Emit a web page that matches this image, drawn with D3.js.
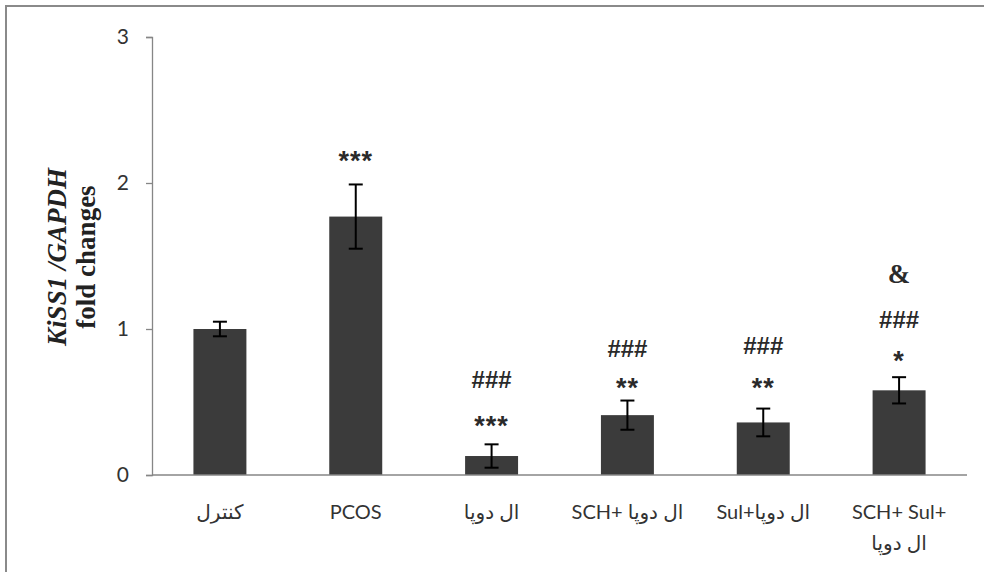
<!DOCTYPE html>
<html><head><meta charset="utf-8">
<script src="https://cdn.jsdelivr.net/npm/d3@7"></script>
<style>
html,body{margin:0;padding:0;background:#fff;}
svg{display:block;}
</style></head>
<body>
<svg id="chart" width="984" height="572"></svg>
<script>
// ---- data ----
const categories = ["کنترل", "PCOS", "ال دوپا", "SCH+ ال دوپا", "Sul+ال دوپا", "SCH+ Sul+|ال دوپا"];
const values = [1.00, 1.77, 0.13, 0.41, 0.36, 0.58];
const errors = [0.05, 0.22, 0.08, 0.10, 0.095, 0.09];
const yTicks = [0, 1, 2, 3];
// significance marks: category index, text, level (in y units)
const marks = [
  {i: 1, t: "***", y: 2.19},
  {i: 2, t: "###", y: 0.66},
  {i: 2, t: "***", y: 0.38},
  {i: 3, t: "###", y: 0.87},
  {i: 3, t: "**",  y: 0.64},
  {i: 4, t: "###", y: 0.89},
  {i: 4, t: "**",  y: 0.64},
  {i: 5, t: "&",   y: 1.38},
  {i: 5, t: "###", y: 1.07},
  {i: 5, t: "*",   y: 0.82}
];

const svg = d3.select("#chart");
const axisX0 = 152, axisX1 = 967, y0 = 475, y3 = 37;

// frame
svg.append("line").attr("x1", 5).attr("x2", 984).attr("y1", 6).attr("y2", 6)
  .attr("stroke", "#8a8a8a").attr("stroke-width", 2);
svg.append("line").attr("x1", 6).attr("x2", 6).attr("y1", 6).attr("y2", 572)
  .attr("stroke", "#8a8a8a").attr("stroke-width", 2);

const x = d3.scaleBand().domain(d3.range(categories.length))
  .range([axisX0, axisX1]).paddingInner(0.61).paddingOuter(0.305);
const y = d3.scaleLinear().domain([0, 3]).range([y0, y3]);

// y axis
const yAxis = d3.axisLeft(y).tickValues(yTicks).tickSize(6).tickPadding(17).tickFormat(d3.format("d"));
const gy = svg.append("g").attr("transform", `translate(${axisX0},0)`).call(yAxis);
gy.select(".domain").attr("stroke", "#868686").attr("stroke-width", 1.3);
gy.selectAll(".tick line").attr("stroke", "#868686").attr("stroke-width", 1.3);
gy.selectAll(".tick text").attr("font-family", "Lato, 'Open Sans', sans-serif")
  .attr("font-size", 21).attr("fill", "#333");

// bars
svg.append("g").selectAll("rect").data(values).join("rect")
  .attr("x", (d, i) => x(i)).attr("width", x.bandwidth())
  .attr("y", d => y(d)).attr("height", d => y0 - y(d))
  .attr("fill", "#3b3b3b");

// x axis line (no ticks)
svg.append("line").attr("x1", axisX0).attr("x2", axisX1).attr("y1", y0).attr("y2", y0)
  .attr("stroke", "#868686").attr("stroke-width", 1.5);

// error bars
const eg = svg.append("g").attr("stroke", "#000").attr("stroke-width", 2);
values.forEach((v, i) => {
  const cx = x(i) + x.bandwidth() / 2;
  const top = y(v + errors[i]), bot = y(v - errors[i]);
  eg.append("line").attr("x1", cx).attr("x2", cx).attr("y1", top).attr("y2", bot);
  eg.append("line").attr("x1", cx - 7).attr("x2", cx + 7).attr("y1", top).attr("y2", top);
  eg.append("line").attr("x1", cx - 7).attr("x2", cx + 7).attr("y1", bot).attr("y2", bot);
});

// category labels
const lg = svg.append("g").attr("font-family", "Lato, 'DejaVu Sans', sans-serif")
  .attr("font-size", 20).attr("fill", "#333").attr("text-anchor", "middle");
categories.forEach((c, i) => {
  const cx = x(i) + x.bandwidth() / 2;
  const lines = c.split("|");
  const t = lg.append("text").attr("x", cx).attr("y", 519);
  lines.forEach((ln, k) => {
    t.append("tspan").attr("x", cx).attr("dy", k === 0 ? 0 : 31).text(ln);
  });
});

// significance marks
const mg = svg.append("g").attr("text-anchor", "middle").attr("fill", "#2a2a2a");
marks.forEach(m => {
  const cx = x(m.i) + x.bandwidth() / 2;
  const t = mg.append("text").attr("x", cx).text(m.t);
  if (m.t.startsWith("*")) {
    t.attr("font-family", "'Liberation Sans', Arial, sans-serif").attr("font-weight", "bold")
     .attr("font-size", 27).attr("letter-spacing", 1).attr("y", y(m.y) + 15);
  } else if (m.t.startsWith("#")) {
    t.attr("font-family", "'Liberation Sans', Arial, sans-serif").attr("font-weight", "bold")
     .attr("font-size", 24).attr("y", y(m.y) + 9);
  } else {
    t.attr("font-family", "'Liberation Serif', serif").attr("font-weight", "bold")
     .attr("font-size", 27).attr("y", y(m.y) + 9);
  }
});

// y axis title
const yt = svg.append("text").attr("transform", "translate(0,257) rotate(-90)")
  .attr("text-anchor", "middle").attr("font-family", "'Liberation Serif', 'Times New Roman', serif")
  .attr("font-weight", "bold").attr("font-size", 27).attr("fill", "#222");
yt.append("tspan").attr("x", 0).attr("y", 66).attr("font-style", "italic").text("KiSS1 /GAPDH");
yt.append("tspan").attr("x", 0).attr("y", 95).text("fold changes");
</script>
</body></html>
